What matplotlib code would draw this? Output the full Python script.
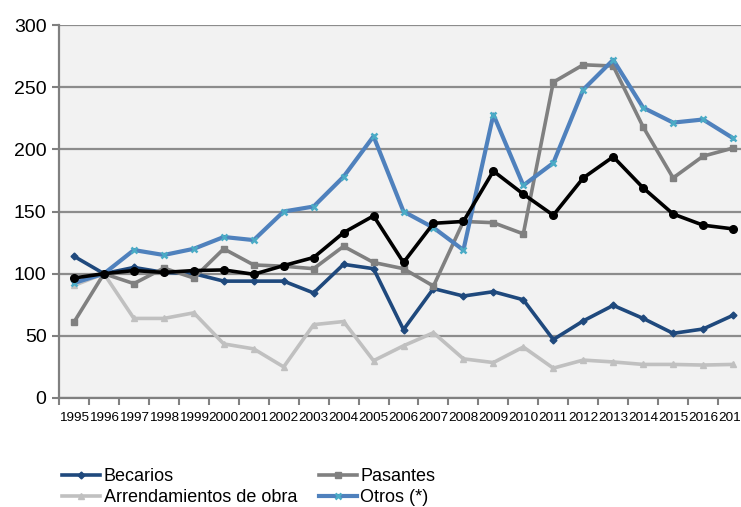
import matplotlib
matplotlib.use('Agg')
import matplotlib.pyplot as plt
import numpy as np

plt.rcParams['font.family'] = ['Liberation Sans', 'DejaVu Sans']

years = [str(y) for y in range(1995, 2018)]

becarios = [114, 100, 105, 101, 100, 94, 94, 94, 84.5, 107.5, 104, 55, 88, 82, 85.5, 79,
            47, 62, 74.5, 64, 52, 55.5, 66.5]
pasantes = [61, 100, 92, 104.5, 96.5, 120, 107, 106, 104, 122, 109, 104, 90, 142, 141, 132,
            254, 268, 267, 218, 177, 194.5, 201]
arrendamientos = [90.5, 100, 64, 64, 68.5, 43.5, 39.5, 25, 59, 61.5, 30, 42, 52.5, 31.5, 28.5, 41,
                  24, 30.5, 29, 27, 27, 26.5, 27]
otros = [92.5, 100, 119, 115, 120, 129.5, 127, 150, 154, 178, 210.5, 150, 137, 119, 228, 171,
         189, 248, 272, 233.5, 221.5, 224, 209]
total = [96.5, 100, 102.5, 101, 102.5, 103, 99.5, 106.5, 113, 133, 146.5, 109, 140.5, 142, 182.5, 164,
         147, 177, 194, 169, 148, 139, 136]

fig = plt.figure(figsize=(7.41, 5.07), dpi=100)
ax = fig.add_axes([59/741, 109/507, 689/741, 373/507])
ax.set_facecolor('#f2f2f2')

x = np.arange(len(years))
l1, = ax.plot(x, becarios, color='#1f497d', lw=2.6, marker='D', ms=3.5, label='Becarios')
l2, = ax.plot(x, pasantes, color='#808080', lw=2.6, marker='s', ms=5, label='Pasantes')
l3, = ax.plot(x, arrendamientos, color='#c0c0c0', lw=2.6, marker='^', ms=5, label='Arrendamientos de obra')
l4, = ax.plot(x, otros, color='#4f81bd', lw=3.0, marker='x', ms=4, mew=1.8, mec='#4bacc6', label='Otros (*)')
ax.plot(x, total, color='black', lw=2.6, marker='o', ms=5.5)

ax.set_ylim(0, 300)
ax.set_yticks(range(0, 301, 50))
ax.set_xlim(-0.5, len(years) - 0.5)
ax.set_xticks(x)
ax.set_xticklabels(years)
ax.set_xticks(np.arange(-0.5, len(years), 1), minor=True)
ax.tick_params(axis='x', which='major', length=0, labelsize=9.7, pad=10)
ax.tick_params(axis='x', which='minor', length=5, width=1.5, color='#808080')
ax.tick_params(axis='y', length=5, width=1.5, color='#808080', labelsize=14, pad=4)
ax.grid(axis='y', color='#8c8c8c', lw=1.6)
ax.set_axisbelow(True)
for s in ['top', 'right']:
    ax.spines[s].set_visible(False)
for s in ['left', 'bottom']:
    ax.spines[s].set_color('#808080')
    ax.spines[s].set_linewidth(1.6)

fig.legend(handles=[l1, l3, l2, l4], ncol=2, frameon=False, fontsize=13,
           loc='upper left', bbox_to_anchor=(55/741, 1 - 461/507),
           handlelength=2.1, handletextpad=0.2, columnspacing=1.2,
           labelspacing=0.2, borderaxespad=0)

fig.savefig('out.png', dpi=100)
